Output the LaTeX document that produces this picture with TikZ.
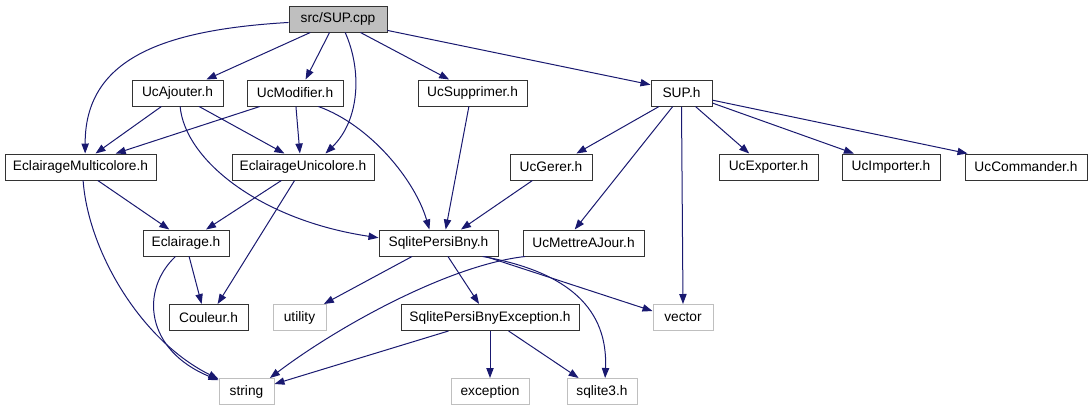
\documentclass[tikz,border=0pt]{standalone}
\usepackage{fontspec}
\setmainfont{Liberation Sans}
\usetikzlibrary{arrows.meta}
\definecolor{edgeblue}{HTML}{191970}
\definecolor{graybox}{HTML}{BFBFBF}
\tikzset{
  box/.style={draw=black!80, line width=0.75pt, fill=white, inner sep=0pt,
    minimum height=19.5pt, minimum width={#1*0.75pt},
    font=\fontsize{10.3}{12}\selectfont},
  sysbox/.style={box=#1, draw=graybox},
  mainbox/.style={box=#1, fill=graybox},
  dep/.style={draw=edgeblue, line width=0.75pt,
    -{Triangle[length=7.5pt,width=5.5pt]}, fill=none}
}
\begin{document}
\begin{tikzpicture}[x=0.75pt,y=-0.75pt]
\useasboundingbox (0,0) rectangle (1092,411);
% row 1
\node[mainbox=98] (cpp) at (338,19) {src/SUP.cpp};
% row 2
\node[box=91] (ua) at (177.5,93) {UcAjouter.h};
\node[box=96] (um) at (295,93) {UcModifier.h};
\node[box=109] (us) at (472.5,93) {UcSupprimer.h};
\node[box=61] (suph) at (681.5,93) {SUP.h};
% row 3
\node[box=151] (em) at (80.5,167) {EclairageMulticolore.h};
\node[box=142] (eu) at (303,167) {EclairageUnicolore.h};
\node[box=82] (ug) at (551,167) {UcGerer.h};
\node[box=99] (uexp) at (768.5,167) {UcExporter.h};
\node[box=98] (uimp) at (891,167) {UcImporter.h};
\node[box=122] (ucom) at (1026,167) {UcCommander.h};
% row 4
\node[box=86] (ecl) at (186,243) {Eclairage.h};
\node[box=119] (spb) at (438.5,243) {SqlitePersiBny.h};
\node[box=121] (umaj) at (583.5,243) {UcMettreAJour.h};
% row 5
\node[box=79] (cou) at (208.5,317.5) {Couleur.h};
\node[sysbox=53] (util) at (299.5,317.5) {utility};
\node[box=178] (spbe) at (490,317.5) {SqlitePersiBnyException.h};
\node[sysbox=60] (vec) at (683,317.5) {vector};
% row 6
\node[sysbox=55] (str) at (246.5,391.5) {string};
\node[sysbox=78] (exc) at (490,391.5) {exception};
\node[sysbox=70] (sq) at (602,391.5) {sqlite3.h};

% edges from src/SUP.cpp
\draw[dep] (cpp.184) .. controls (160,30) and (85,60) .. (em.71);
\draw[dep] (cpp.206) -- (ua.25);
\draw[dep] (cpp.238) -- (um.52);
\draw[dep] (cpp.298) .. controls (362,70) and (360,120) .. (eu.31);
\draw[dep] (cpp.329) -- (us.150);
\draw[dep] (cpp.347) -- (suph.165);
% UcAjouter
\draw[dep] (ua.220) -- (em.42);
\draw[dep] (ua.328) -- (eu.144);
\draw[dep] (ua.281) .. controls (185,160) and (260,220) .. (spb.175);
% UcModifier
\draw[dep] (um.201) -- (em.21);
\draw[dep] (um.274) -- (eu.103);
\draw[dep] (um.330) .. controls (370,125) and (415,180) .. (spb.124);
% UcSupprimer
\draw[dep] (us.255) -- (spb.62);
% EclairageMulticolore
\draw[dep] (em.322) -- (ecl.141);
\draw[dep] (em.281) .. controls (88,250) and (140,340) .. (str.156);
% EclairageUnicolore
\draw[dep] (eu.212) -- (ecl.34);
\draw[dep] (eu.238) -- (cou.56);
% Eclairage
\draw[dep] (ecl.283) -- (cou.117);
\draw[dep] (ecl.232) .. controls (140,290) and (145,350) .. (str.158);
% SUP.h
\draw[dep] (suph.211) -- (ug.28);
\draw[dep] (suph.237) -- (umaj.123);
\draw[dep] (suph.south) -- (vec.north);
\draw[dep] (suph.316) -- (uexp.145);
\draw[dep] (suph.342) -- (uimp.160);
\draw[dep] (suph.347) -- (ucom.167);
% UcGerer
\draw[dep] (ug.216) -- (spb.31);
% SqlitePersiBny
\draw[dep] (spb.207) -- (util.29);
\draw[dep] (spb.305) -- (spbe.129);
\draw[dep] (spb.344) -- (vec.168);
\draw[dep] (spb.343) .. controls (570,272) and (608,310) .. (sq.77);
% UcMettreAJour
\draw[dep] (umaj.193) .. controls (450,265) and (340,325) .. (str.30);
% SqlitePersiBnyException
\draw[dep] (spbe.198) -- (str.15);
\draw[dep] (spbe.south) -- (exc.north);
\draw[dep] (spbe.324) -- (sq.150);
\end{tikzpicture}
\end{document}
